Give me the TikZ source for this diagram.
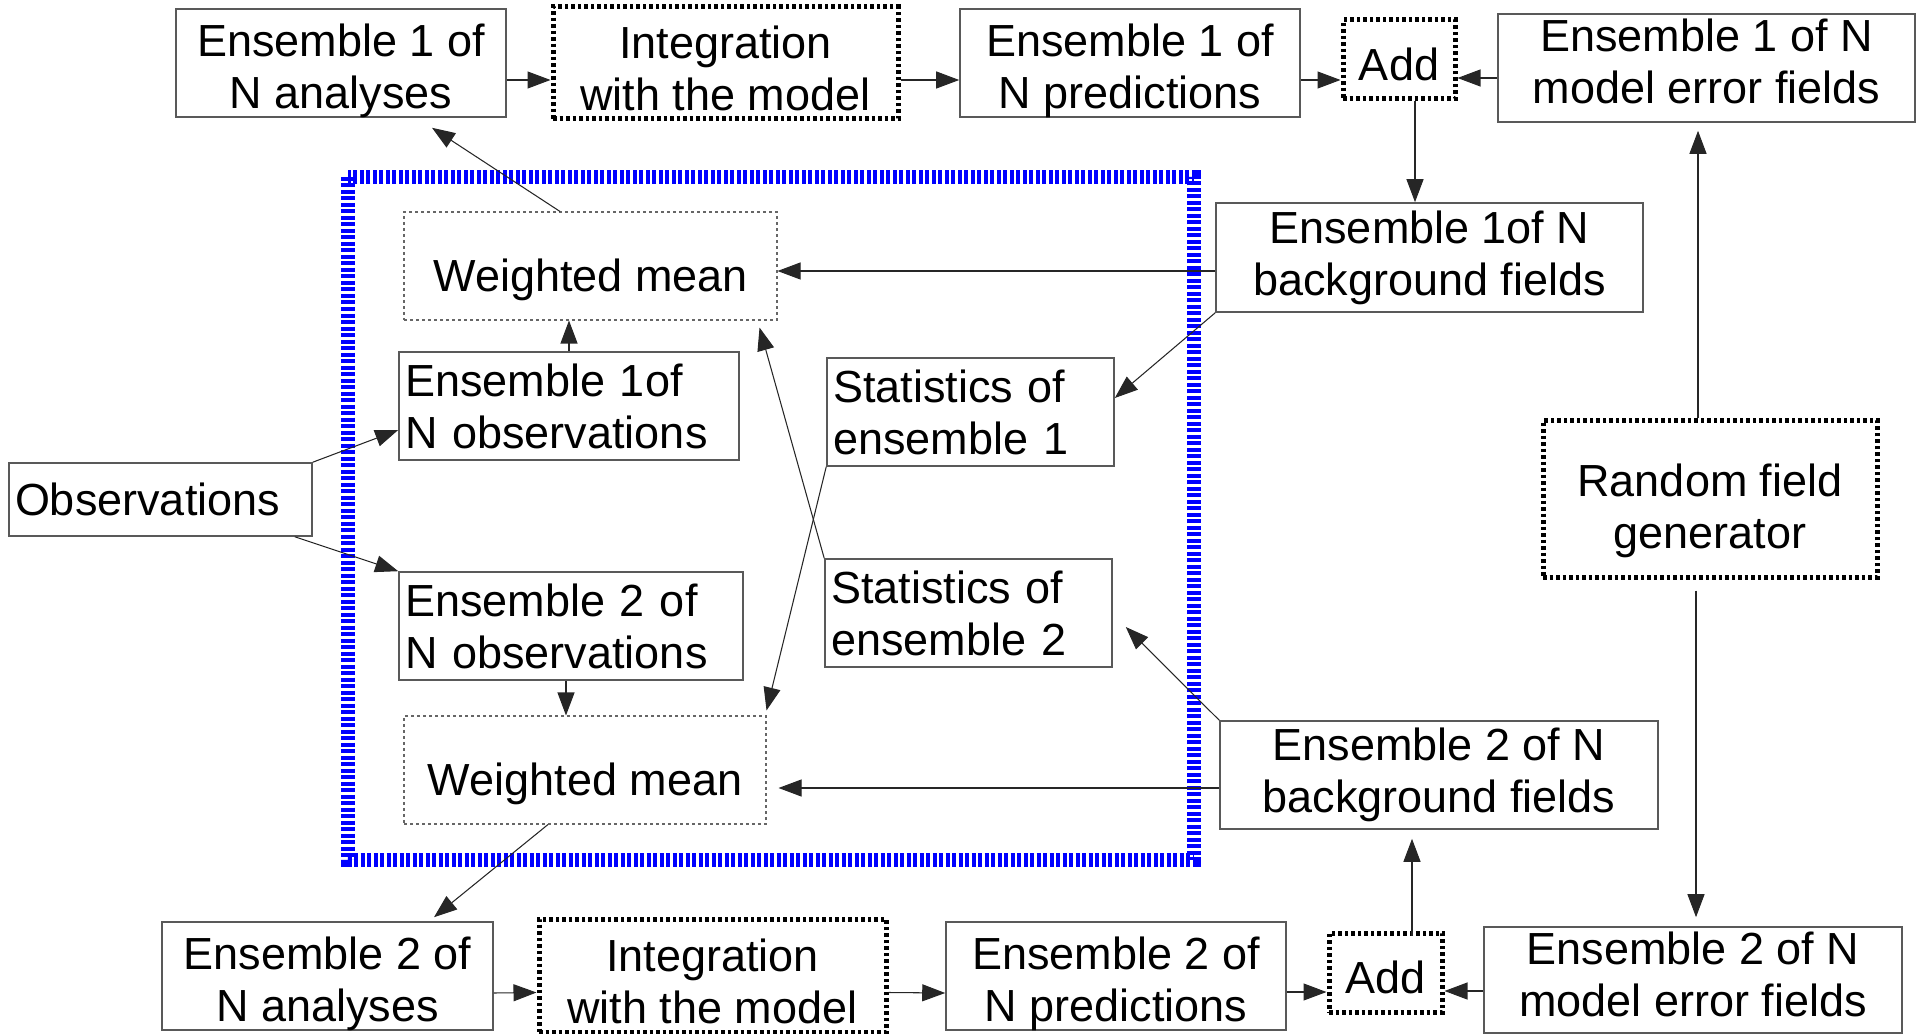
\documentclass[tikz,border=0pt]{standalone}
\usepackage{fontspec}
\setmainfont{Liberation Sans}
\usepackage{tikz}
\usetikzlibrary{arrows.meta,positioning,calc}

\newcommand{\diagfont}{\fontsize{25.6}{29.6}\selectfont}

\begin{document}
\begin{tikzpicture}[
    box/.style={rectangle, draw=black!65, line width=0.9pt, minimum height=2.16cm, inner sep=0.12cm, align=center, font=\diagfont},
    leftbox/.style={box, align=left},
    lowbox/.style={box, text height=1.81cm, text depth=0cm},
    meanbox/.style={rectangle, draw=black!60, line width=0.6pt, dash pattern=on 0.06cm off 0.06cm, minimum height=2.16cm, align=center, font=\diagfont, text height=1.2cm},
    dotbox/.style={rectangle, draw=black, line width=0.1cm, dash pattern=on 0.07cm off 0.06cm, inner sep=0.05cm, align=center, font=\diagfont},
    arrow/.style={-{Triangle[length=0.46cm,width=0.34cm]}, line width=0.6pt, draw=black!85}
]
\useasboundingbox (0,0) rectangle (38.42,-20.68);

% Part 1: assimilation core
\draw[blue, line width=0.28cm, dash pattern=on 0.08cm off 0.05cm] (6.96,-3.54) rectangle (23.88,-17.20);

% Part 2: Ensemble 1 cycle
\node[lowbox, minimum width=6.60cm] (an1) at (6.82,-1.26) {Ensemble 1 of\\N analyses};
\node[dotbox, minimum width=6.90cm, minimum height=2.24cm, text height=1.92cm, text depth=0cm] (int1) at (14.51,-1.26) {Integration\\with the model};
\node[lowbox, minimum width=6.80cm] (pr1) at (22.60,-1.26) {Ensemble 1 of\\N predictions};
\node[dotbox, minimum width=2.24cm, minimum height=1.58cm, text height=0.86cm] (add1) at (27.98,-1.19) {Add};
\node[box, minimum width=8.34cm, text height=1.44cm] (me1) at (34.13,-1.36) {Ensemble 1 of N\\model error fields};
\node[box, minimum width=8.54cm, minimum height=2.18cm] (bg1) at (28.59,-5.15) {Ensemble 1of N\\background fields};
\node[meanbox, minimum width=7.46cm] (wm1) at (11.81,-5.32) {Weighted mean};
\node[leftbox, minimum width=6.80cm, text width=6.56cm] (obs1) at (11.38,-8.12) {Ensemble 1of\\N observations};
\node[leftbox, minimum width=5.74cm, text width=5.50cm] (stat1) at (19.41,-8.24) {Statistics of\\ensemble 1};

% Part 3: observations and random fields
\node[leftbox, minimum width=6.06cm, minimum height=1.46cm, text width=5.82cm] (obs) at (3.21,-9.99) {Observations};
\node[dotbox, minimum width=6.68cm, minimum height=3.12cm, text height=2.15cm] (rf) at (34.20,-9.98) {Random field\\generator};

% Part 4: Ensemble 2 cycle
\node[leftbox, minimum width=6.88cm, text width=6.64cm] (obs2) at (11.42,-12.52) {Ensemble 2 of\\N observations};
\node[leftbox, minimum width=5.74cm, text width=5.50cm] (stat2) at (19.37,-12.26) {Statistics of\\ensemble 2};
\node[meanbox, minimum width=7.24cm] (wm2) at (11.70,-15.40) {Weighted mean};
\node[box, minimum width=8.76cm] (bg2) at (28.78,-15.50) {Ensemble 2 of N\\background fields};
\node[lowbox, minimum width=6.62cm] (an2) at (6.55,-19.52) {Ensemble 2 of\\N analyses};
\node[dotbox, minimum width=6.94cm, minimum height=2.26cm, text height=1.91cm, text depth=0cm] (int2) at (14.25,-19.51) {Integration\\with the model};
\node[lowbox, minimum width=6.80cm] (pr2) at (22.32,-19.52) {Ensemble 2 of\\N predictions};
\node[dotbox, minimum width=2.26cm, minimum height=1.58cm, text height=0.86cm] (add2) at (27.71,-19.45) {Add};
\node[box, minimum width=8.36cm, minimum height=2.12cm, text height=1.46cm] (me2) at (33.86,-19.60) {Ensemble 2 of N\\model error fields};

% Connectors, ensemble 1
\draw[arrow] ([yshift=-0.34cm]an1.east) -- ([yshift=-0.34cm]int1.west);
\draw[arrow] ([yshift=-0.34cm]int1.east) -- ([yshift=-0.34cm]pr1.west);
\draw[arrow] ([yshift=-0.34cm]pr1.east) -- ([yshift=-0.34cm]pr1.east -| add1.west);
\draw[arrow] ([yshift=-0.2cm]me1.west) -- ([yshift=-0.2cm]me1.west -| add1.east);
\draw[arrow] ([xshift=0.32cm]add1.south) -- ([xshift=0.32cm]add1.south |- bg1.north);
\draw[arrow, shorten >=0.16cm] ([xshift=-0.17cm]me1.south |- rf.north) -- ([xshift=-0.17cm]me1.south);
\draw[arrow] ([yshift=-0.1cm]wm1.east -| bg1.west) -- ([yshift=-0.1cm]wm1.east);
\draw[arrow] (bg1.south west) -- ([yshift=0.28cm]stat1.east);
\draw[arrow] (obs1.north) -- (obs1.north |- wm1.south);
\draw[arrow] ([xshift=-0.61cm]wm1.north) -- ([xshift=1.82cm,yshift=-0.2cm]an1.south);
\draw[arrow] (obs.north east) -- ([yshift=-0.48cm]obs1.west);
\draw[arrow] (stat1.south west) -- ([yshift=0.1cm]wm2.north east);

% Connectors, ensemble 2
\draw[arrow] ([xshift=-0.36cm]obs.south east) -- (obs2.north west);
\draw[arrow] ([xshift=-0.1cm]obs2.south) -- ([xshift=-0.1cm]obs2.south |- wm2.north);
\draw[arrow] (stat2.north west) -- ([xshift=-0.36cm,yshift=-0.14cm]wm1.south east);
\draw[arrow] (bg2.north west) -- ([xshift=0.26cm,yshift=-0.28cm]stat2.east);
\draw[arrow, shorten >=0.24cm] ([yshift=-0.36cm]wm2.east -| bg2.west) -- ([yshift=-0.36cm]wm2.east);
\draw[arrow] ([xshift=-0.74cm]wm2.south) -- ([xshift=2.13cm,yshift=0.08cm]an2.north);
\draw[arrow, shorten <=0.22cm, shorten >=0.18cm] ([xshift=0.06cm]me2.north |- rf.south) -- ([xshift=0.06cm]me2.north);
\draw[arrow] ([yshift=-0.34cm]an2.east) -- ([yshift=-0.34cm]int2.west);
\draw[arrow] ([yshift=-0.34cm]int2.east) -- ([yshift=-0.34cm]pr2.west);
\draw[arrow] ([yshift=-0.32cm]pr2.east) -- ([yshift=-0.32cm]pr2.east -| add2.west);
\draw[arrow] ([yshift=-0.22cm]me2.west) -- ([yshift=-0.22cm]me2.west -| add2.east);
\draw[arrow, shorten <=-0.1cm, shorten >=0.18cm] ([xshift=0.53cm]add2.north) -- ([xshift=0.53cm]add2.north |- bg2.south);

\end{tikzpicture}
\end{document}
